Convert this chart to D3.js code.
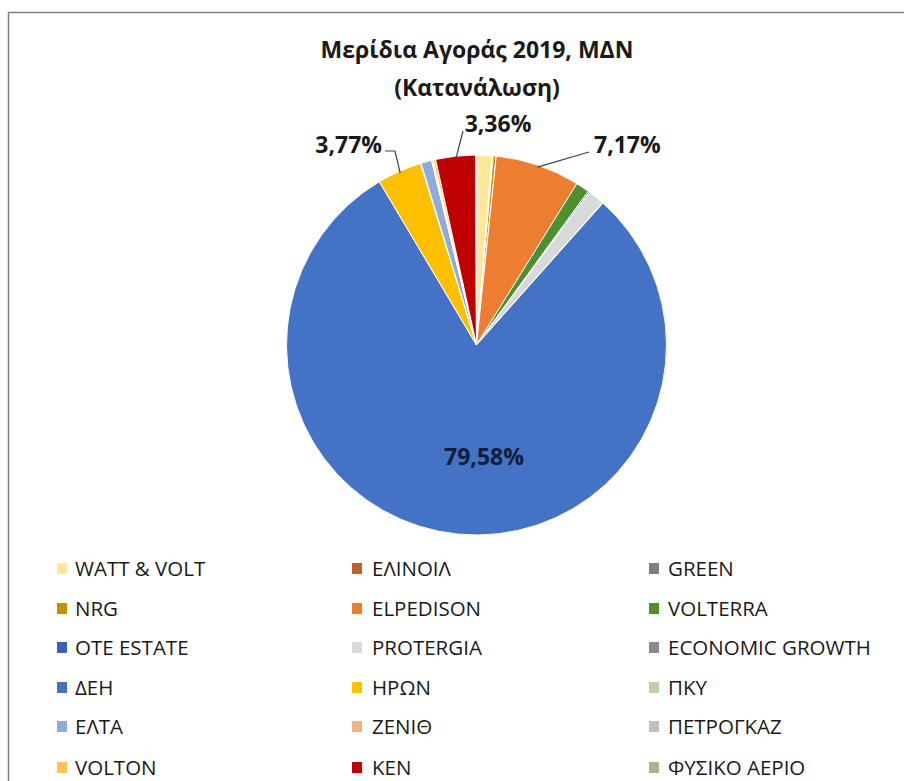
<!DOCTYPE html>
<html><head><meta charset="utf-8">
<script src="https://cdn.jsdelivr.net/npm/d3@7"></script>
<style>
html,body{margin:0;padding:0;background:#fff;}
svg{display:block;}
</style></head>
<body>
<svg id="chart" width="904" height="781"></svg>
<script>
const categories = ["WATT & VOLT","ΕΛΙΝΟΙΛ","GREEN","NRG","ELPEDISON","VOLTERRA","OTE ESTATE","PROTERGIA","ECONOMIC GROWTH","ΔΕΗ","ΗΡΩΝ","ΠΚΥ","ΕΛΤΑ","ΖΕΝΙΘ","ΠΕΤΡΟΓΚΑΖ","VOLTON","ΚΕΝ","ΦΥΣΙΚΟ ΑΕΡΙΟ"];
const shares = [1.30,0.05,0.05,0.25,7.17,1.15,0.12,1.40,0.05,79.58,3.77,0.05,0.90,0.10,0.05,0.20,3.36,0.08];
const colors = ["#FFE699","#C0602A","#7F7F7F","#BF9000","#ED7D31","#4E8F2E","#3A62B8","#D9D9D9","#8C8C8C","#4472C4","#FFC000","#C5CBA8","#8FAADC","#F4B183","#BFBFBF","#F9C74F","#C00000","#A9B48A"];
const labelText = ["3,36%","7,17%","3,77%","79,58%"];
const labelFor = ["ΚΕΝ","ELPEDISON","ΗΡΩΝ","ΔΕΗ"];
const titleLines = ["Μερίδια Αγοράς 2019, ΜΔΝ","(Κατανάλωση)"];

const svg = d3.select("#chart");
// chart border
svg.append("rect").attr("x",8.5).attr("y",12.5).attr("width",1000).attr("height",1000)
  .attr("fill","#fff").attr("stroke","#808080").attr("stroke-width",1.5);

const font = "'Open Sans', 'Noto Sans', sans-serif";
svg.append("g").selectAll("text").data(titleLines).join("text")
  .attr("x",477).attr("y",(d,i)=>58+i*38)
  .attr("text-anchor","middle").attr("font-family",font).attr("font-weight","bold")
  .attr("font-size",23).attr("fill","#1a1a1a").text(d=>d);

const cx = 476.5, cy = 345, R = 190;
const data = categories.map((c,i)=>({name:c,value:shares[i],color:colors[i]}));
const pie = d3.pie().value(d=>d.value).sort(null).startAngle(0).endAngle(2*Math.PI);
const arcs = pie(data);
const arc = d3.arc().innerRadius(0).outerRadius(R);
const g = svg.append("g").attr("transform",`translate(${cx},${cy})`);
g.selectAll("path").data(arcs).join("path")
  .attr("d",arc).attr("fill",d=>d.data.color)
  .attr("stroke","#fff").attr("stroke-width",1);

// labels
const byName = Object.fromEntries(arcs.map(a=>[a.data.name,a]));
function edge(a, r){ const m=(a.startAngle+a.endAngle)/2; return [r*Math.sin(m), -r*Math.cos(m)]; }
const lg = svg.append("g").attr("font-family",font).attr("font-weight","bold").attr("font-size",23).attr("fill","#1a1a1a");
// ΚΕΝ
{ const p = edge(byName[labelFor[0]], R-3);
  lg.append("path").attr("d",`M${cx+p[0]},${cy+p[1]} L${463},${131}`).attr("stroke","#404040").attr("fill","none").attr("stroke-width",1.2);
  lg.append("text").attr("x",498).attr("y",132).attr("text-anchor","middle").text(labelText[0]); }
// ELPEDISON
{ const p = edge(byName[labelFor[1]], R-2);
  lg.append("path").attr("d",`M${cx+p[0]},${cy+p[1]} L${589},${152}`).attr("stroke","#404040").attr("fill","none").attr("stroke-width",1.2);
  lg.append("text").attr("x",594).attr("y",153).attr("text-anchor","start").text(labelText[1]); }
// ΗΡΩΝ
{ const p = edge(byName[labelFor[2]], R-2);
  lg.append("path").attr("d",`M${cx+p[0]},${cy+p[1]} L${395},${151} L${385},${151}`).attr("stroke","#404040").attr("fill","none").attr("stroke-width",1.2);
  lg.append("text").attr("x",382).attr("y",153).attr("text-anchor","end").text(labelText[2]); }
// ΔΕΗ
lg.append("text").attr("x",484).attr("y",465).attr("text-anchor","middle").attr("fill","#10203a").text(labelText[3]);

// legend
const swX = [57,352,649];
const txX = [75,372,668];
const rowY = [568,608,647,687,726,767];
const leg = svg.append("g").attr("font-family",font).attr("font-size",20.5).attr("fill","#1a1a1a");
const items = leg.selectAll("g").data(data).join("g")
  .attr("transform",(d,i)=>`translate(0,${rowY[Math.floor(i/3)]})`);
items.append("rect").attr("x",(d,i)=>swX[i%3]).attr("y",-5).attr("width",10).attr("height",11).attr("fill",d=>d.color);
items.append("text").attr("x",(d,i)=>txX[i%3]).attr("y",7.5).text(d=>d.name);
</script>
</body></html>
